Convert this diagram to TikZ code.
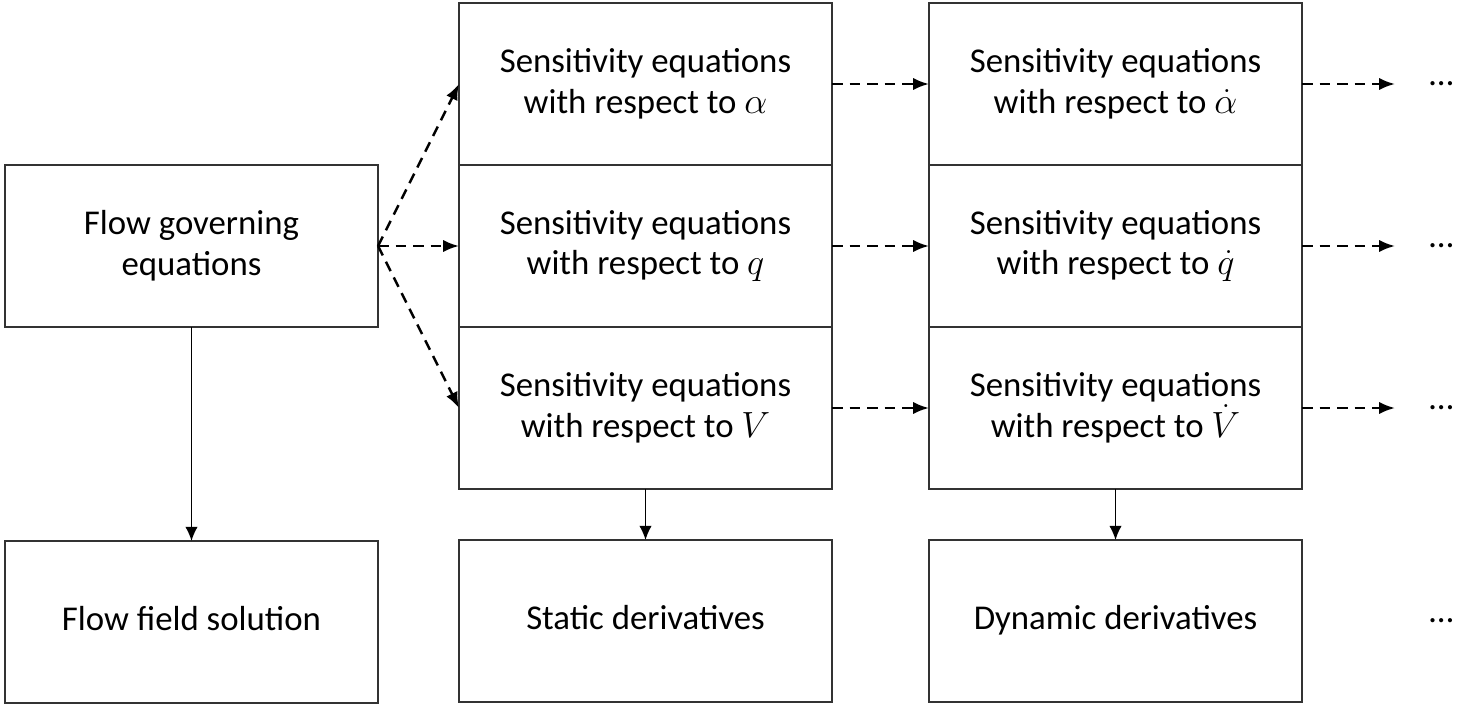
\documentclass[tikz,border=0pt]{standalone}
\usepackage{fontspec}
\setmainfont{Carlito}
\usetikzlibrary{arrows.meta,positioning}

\begin{document}
\begin{tikzpicture}[
  box/.style={draw=black!80, line width=0.8pt, minimum width=7.46cm,
    minimum height=3.24cm, align=center, outer sep=0pt, inner sep=0pt,
    font=\fontsize{19.8}{23.2}\selectfont},
  dasharrow/.style={-{Latex[length=9pt,width=7pt]}, dash pattern=on 6pt off 4pt,
    line width=1.4pt},
  solidarrow/.style={-{Latex[length=8pt,width=7pt]}, line width=0.8pt},
  more/.style={inner xsep=0.68cm, inner ysep=0pt, font=\fontsize{19.8}{23.2}\selectfont}
]
\useasboundingbox (0,0) rectangle (29.18,-14.14);

% first column
\node[box] (flow) at (3.83,-4.92) {Flow governing\\equations};
\node[box] (field) [below=4.28cm of flow] {\strut Flow field solution};

% static sensitivities
\node[box] (sq) [right=1.62cm of flow] {Sensitivity equations\\with respect to $q$};
\node[box] (sa) [above=0pt of sq] {Sensitivity equations\\with respect to $\alpha$};
\node[box] (sv) [below=0pt of sq] {Sensitivity equations\\with respect to $V$};
\node[box] (static) [below=1.02cm of sv] {\strut Static derivatives};

% dynamic sensitivities
\node[box] (dq) [right=1.94cm of sq] {Sensitivity equations\\with respect to $\dot{q}$};
\node[box] (da) [above=0pt of dq] {Sensitivity equations\\with respect to $\dot{\alpha}$};
\node[box] (dv) [below=0pt of dq] {Sensitivity equations\\with respect to $\dot{V}$};
\node[box] (dynamic) [below=1.02cm of dv] {\strut Dynamic derivatives};

% continuation dots
\node[more] (ea) [right=1.86cm of da] {\ldots};
\node[more] (eq) [right=1.86cm of dq] {\ldots};
\node[more] (ev) [right=1.86cm of dv] {\ldots};
\node[more] (ed) [right=1.86cm of dynamic] {\ldots};

\draw[solidarrow] (flow) -- (field);
\draw[solidarrow] (sv) -- (static);
\draw[solidarrow] (dv) -- (dynamic);

\draw[dasharrow] (flow.east) -- (sa.west);
\draw[dasharrow] (flow.east) -- (sq.west);
\draw[dasharrow] (flow.east) -- (sv.west);

\draw[dasharrow] (sa) -- (da);
\draw[dasharrow] (sq) -- (dq);
\draw[dasharrow] (sv) -- (dv);
\draw[dasharrow] (da) -- (ea);
\draw[dasharrow] (dq) -- (eq);
\draw[dasharrow] (dv) -- (ev);
\end{tikzpicture}
\end{document}
